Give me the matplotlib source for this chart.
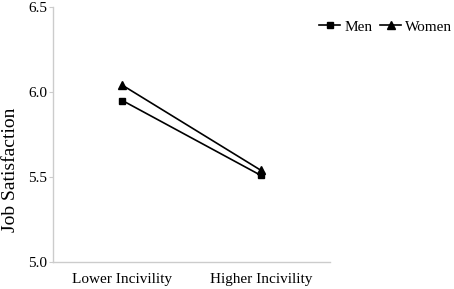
import matplotlib
matplotlib.use("Agg")
import matplotlib.pyplot as plt

categories = ["Lower Incivility", "Higher Incivility"]
men = [5.95, 5.51]
women = [6.04, 5.54]
yticks = [5.0, 5.5, 6.0, 6.5]

plt.rcParams['font.family'] = ['Liberation Serif', 'DejaVu Serif']

fig = plt.figure(figsize=(4.54, 2.89), dpi=100)
ax = fig.add_axes([0.117, 0.093, 0.61, 0.883])
x = list(range(len(categories)))
ax.plot(x, men, color='black', lw=1.2, marker='s', ms=5, label='Men')
ax.plot(x, women, color='black', lw=1.2, marker='^', ms=5.5, label='Women')
ax.set_xlim(-0.5, 1.5)
ax.set_ylim(5.0, 6.5)
ax.set_yticks(yticks)
ax.set_yticklabels([f"{v:.1f}" for v in yticks], fontsize=11)
ax.set_xticks(x)
ax.set_xticklabels(categories, fontsize=11)
ax.set_ylabel("Job Satisfaction", fontsize=14)
ax.yaxis.set_label_coords(-0.122, 0.36)
for s in ['top', 'right']:
    ax.spines[s].set_visible(False)
for s in ['left', 'bottom']:
    ax.spines[s].set_color('#cccccc')
    ax.spines[s].set_linewidth(1.0)
ax.tick_params(axis='y', color='#cccccc', length=3, pad=1)
ax.tick_params(axis='x', length=0, pad=8)
fig.legend(loc='center right', bbox_to_anchor=(0.996, 0.907), ncol=2, frameon=False,
           fontsize=11, handlelength=1.4, handletextpad=0.25, columnspacing=0.5,
           borderaxespad=0.0, borderpad=0.0)
fig.savefig("out.png", dpi=100)
